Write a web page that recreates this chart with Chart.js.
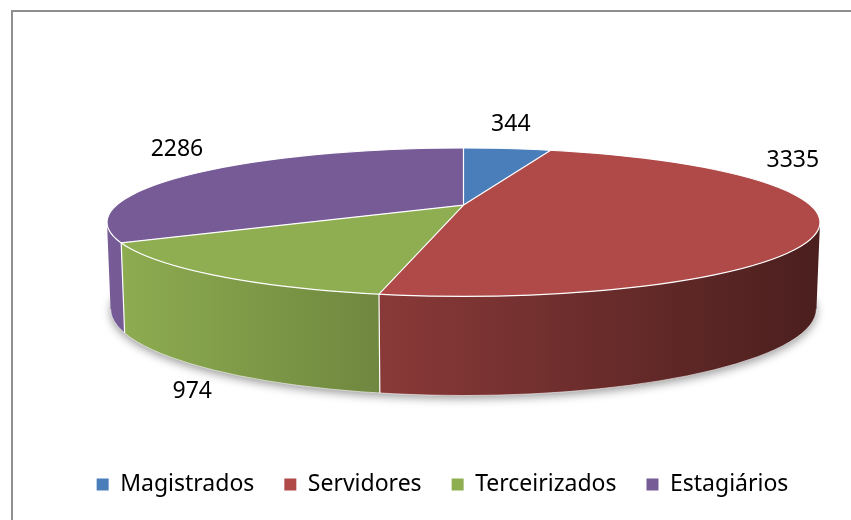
<!DOCTYPE html>
<html>
<head>
<meta charset="utf-8">
<script src="https://cdn.jsdelivr.net/npm/chart.js@4.4.1/dist/chart.umd.min.js"></script>
<style>
  html, body { margin: 0; padding: 0; background: #fff; }
  #grafico { display: block; }
</style>
</head>
<body>
<canvas id="grafico" width="851" height="520"></canvas>
<script>
const categorias = ['Magistrados', 'Servidores', 'Terceirizados', 'Estagiários'];
const valores = [344, 3335, 974, 2286];
const cores = ['#4A7EBB', '#B04A48', '#8FAE51', '#765B97'];

// aparencia do efeito 3D
const inclinacao = 0.208;     // ry / rx do tampo
const profundidade = 0.243;   // altura da parede / rx
const perspectiva = -0.23;    // desloca o centro do tampo para tras
const baseAlt = 1.17;         // elipse da base um pouco mais "aberta"
const baseLarg = 0.99;
const recuoEsquerdo = 42;
const escurecimento = 0.42;
// deslocamento de cada rotulo a partir do ponto medio da borda da fatia
const ajusteRotulos = [[-8, -24], [-16, -80], [-61, 109], [20, -35]];

function escurecer(hex, f) {
  const n = parseInt(hex.slice(1), 16);
  const r = Math.round(((n >> 16) & 255) * f);
  const g = Math.round(((n >> 8) & 255) * f);
  const b = Math.round((n & 255) * f);
  return `rgb(${r},${g},${b})`;
}

function geometria(chart) {
  const a = chart.chartArea;
  const rx = (a.right - a.left - recuoEsquerdo) / 2;
  const ry = rx * inclinacao;
  return {
    cx: a.left + recuoEsquerdo + rx, cy: a.top + ry, rx: rx, ry: ry,
    by: a.top + ry + rx * profundidade, brx: rx * baseLarg, bry: ry * baseAlt
  };
}

// angulo do circulo -> angulo na elipse vista em perspectiva
const ch = 1 / Math.sqrt(1 - perspectiva * perspectiva);
const sh = perspectiva * ch;
function projetar(t) {
  const d = sh * Math.sin(t) + ch;
  const x = Math.cos(t) / d;
  const y = (ch * Math.sin(t) + sh) / d;
  let f = Math.atan2(y, x);
  while (f < t - Math.PI) f += Math.PI * 2;
  while (f > t + Math.PI) f -= Math.PI * 2;
  return f;
}

const pizza3d = {
  id: 'pizza3d',
  beforeDraw(chart) {
    // moldura cinza (so esquerda e topo aparecem)
    const ctx = chart.ctx;
    ctx.save();
    ctx.fillStyle = '#8f8f8f';
    ctx.fillRect(11, 10, 2, 510);
    ctx.fillRect(11, 10, 840, 2);
    ctx.restore();
  },
  beforeDatasetsDraw(chart) {
    const ctx = chart.ctx;
    const g = geometria(chart);
    const arcos = chart.getDatasetMeta(0).data;
    const apiceY = g.cy + g.ry * perspectiva;

    // sombra suave embaixo
    ctx.save();
    ctx.shadowColor = 'rgba(0,0,0,0.4)';
    ctx.shadowBlur = 10;
    ctx.shadowOffsetY = 3;
    ctx.fillStyle = '#999';
    ctx.beginPath();
    ctx.ellipse(g.cx, g.by, g.brx, g.bry, 0, 0, Math.PI * 2);
    ctx.fill();
    ctx.restore();

    // paredes (so metade da frente)
    arcos.forEach((arco, i) => {
      const a0 = Math.max(projetar(arco.startAngle), 0);
      const a1 = Math.min(projetar(arco.endAngle), Math.PI);
      if (a0 >= a1) return;
      const grad = ctx.createLinearGradient(g.cx - g.rx, 0, g.cx + g.rx, 0);
      grad.addColorStop(0, cores[i]);
      grad.addColorStop(1, escurecer(cores[i], escurecimento));
      ctx.beginPath();
      ctx.ellipse(g.cx, g.cy, g.rx, g.ry, 0, a0, a1);
      ctx.ellipse(g.cx, g.by, g.brx, g.bry, 0, a1, a0, true);
      ctx.closePath();
      ctx.fillStyle = grad;
      ctx.fill();
    });

    // tampo: angulos das fatias vindos dos arcos do Chart.js
    arcos.forEach(arco => {
      const f0 = projetar(arco.startAngle);
      const f1 = projetar(arco.endAngle);
      ctx.beginPath();
      ctx.moveTo(g.cx, apiceY);
      ctx.ellipse(g.cx, g.cy, g.rx, g.ry, 0, f0, f1);
      ctx.closePath();
      ctx.fillStyle = arco.options.backgroundColor;
      ctx.fill();
    });

    // linhas brancas
    ctx.save();
    ctx.strokeStyle = '#fff';
    ctx.lineWidth = 1.2;
    ctx.beginPath();
    ctx.ellipse(g.cx, g.cy, g.rx, g.ry, 0, 0, Math.PI * 2);
    ctx.stroke();
    arcos.forEach(arco => {
      const f = projetar(arco.startAngle);
      const px = g.cx + g.rx * Math.cos(f);
      const py = g.cy + g.ry * Math.sin(f);
      ctx.beginPath();
      ctx.moveTo(g.cx, apiceY);
      ctx.lineTo(px, py);
      if (f > 0 && f < Math.PI) {
        ctx.moveTo(px, py);
        ctx.lineTo(g.cx + g.brx * Math.cos(f), g.by + g.bry * Math.sin(f));
      }
      ctx.stroke();
    });
    ctx.strokeStyle = 'rgba(255,255,255,0.6)';
    ctx.lineWidth = 1;
    ctx.beginPath();
    ctx.ellipse(g.cx, g.by, g.brx, g.bry, 0, 0, Math.PI);
    ctx.stroke();
    ctx.restore();
    return false;
  },
  afterDraw(chart) {
    const ctx = chart.ctx;
    const g = geometria(chart);
    const arcos = chart.getDatasetMeta(0).data;
    ctx.save();
    ctx.font = '23px "Noto Sans"';
    ctx.fillStyle = '#000';
    ctx.textAlign = 'center';
    ctx.textBaseline = 'middle';
    arcos.forEach((arco, i) => {
      const meio = (arco.startAngle + arco.endAngle) / 2;
      const x = g.cx + g.rx * Math.cos(meio) + ajusteRotulos[i][0];
      const y = g.cy + g.ry * Math.sin(meio) + ajusteRotulos[i][1];
      ctx.fillText(String(valores[i]), x, y);
    });
    ctx.restore();
  }
};

Chart.defaults.font.family = '"Noto Sans", sans-serif';

new Chart(document.getElementById('grafico'), {
  type: 'pie',
  data: {
    labels: categorias,
    datasets: [{
      data: valores,
      backgroundColor: cores,
      borderWidth: 0
    }]
  },
  options: {
    responsive: false,
    animation: false,
    events: [],
    layout: { padding: { left: 65, right: 31, top: 148, bottom: 14 } },
    plugins: {
      tooltip: { enabled: false },
      legend: {
        position: 'bottom',
        labels: {
          color: '#000',
          font: { size: 23 },
          boxWidth: 12,
          boxHeight: 12,
          padding: 30
        }
      }
    }
  },
  plugins: [pizza3d]
});
</script>
</body>
</html>
